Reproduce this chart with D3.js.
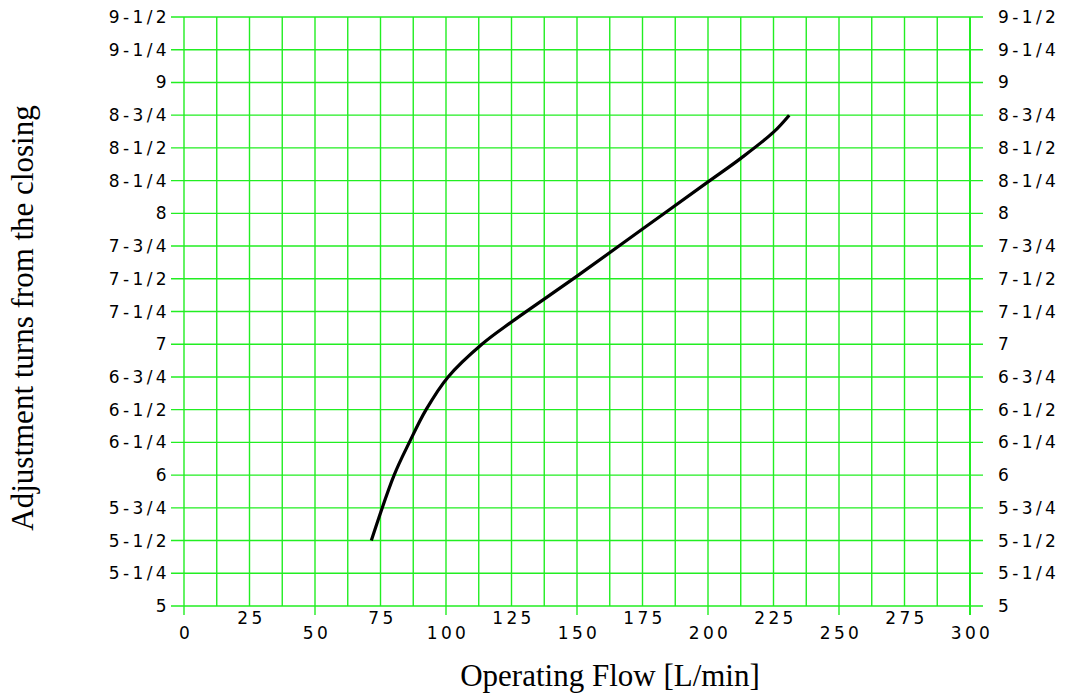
<!DOCTYPE html>
<html>
<head>
<meta charset="utf-8">
<script src="https://cdn.jsdelivr.net/npm/d3@7"></script>
<style>
  body { margin: 0; background: #fff; }
  .tick-label { font-family: "DejaVu Sans", sans-serif; font-size: 17px; letter-spacing: 3.4px; fill: #000; }
  .title { font-family: "Liberation Serif", "Times New Roman", serif; font-size: 31px; fill: #000; }
</style>
</head>
<body>
<script>
// curve
var flowData = [71.5, 80.2, 86.0, 92.4, 100.8, 113.7, 125, 150, 175, 200, 212.5, 225, 231];
var turnsData = [5.5, 6.0, 6.25, 6.5, 6.75, 7.0, 7.17, 7.52, 7.88, 8.24, 8.42, 8.62, 8.75];

var yTicks = [5, 5.25, 5.5, 5.75, 6, 6.25, 6.5, 6.75, 7, 7.25, 7.5, 7.75, 8, 8.25, 8.5, 8.75, 9, 9.25, 9.5];
var yLabels = ['5','5-1/4','5-1/2','5-3/4','6','6-1/4','6-1/2','6-3/4','7','7-1/4','7-1/2','7-3/4','8','8-1/4','8-1/2','8-3/4','9','9-1/4','9-1/2'];
var xTicks = [0, 25, 50, 75, 100, 125, 150, 175, 200, 225, 250, 275, 300];
var xGrid = d3.range(0, 300.1, 12.5);

const width = 1080, height = 697;
const margin = { left: 184, right: 110, top: 17, bottom: 91 };
const plotW = width - margin.left - margin.right;
const plotH = height - margin.top - margin.bottom;

const x = d3.scaleLinear().domain([0, 300]).range([0, plotW]);
const y = d3.scaleLinear().domain([5, 9.5]).range([plotH, 0]);

const svg = d3.select("body").append("svg").attr("width", width).attr("height", height);
const g = svg.append("g").attr("transform", `translate(${margin.left}, ${margin.top})`);

// horizontal grid
g.selectAll(".hgrid").data(yTicks).enter().append("line")
    .attr("x1", -13).attr("x2", plotW + 13)
    .attr("y1", d => y(d)).attr("y2", d => y(d))
    .attr("stroke", "#22ee22").attr("stroke-width", 1.4);

// vertical grid
g.selectAll(".vgrid").data(xGrid).enter().append("line")
    .attr("x1", d => x(d)).attr("x2", d => x(d))
    .attr("y1", 0).attr("y2", d => (d % 50 === 0 ? plotH + 9 : plotH))
    .attr("stroke", "#22ee22").attr("stroke-width", d => d === 300 ? 2 : 1.4);

// left / right labels
g.selectAll(".yl").data(yTicks).enter().append("text")
    .attr("class", "tick-label")
    .attr("x", -14).attr("y", d => y(d) + 6)
    .attr("text-anchor", "end")
    .text((d, i) => yLabels[i]);
g.selectAll(".yr").data(yTicks).enter().append("text")
    .attr("class", "tick-label")
    .attr("x", plotW + 28).attr("y", d => y(d) + 6)
    .text((d, i) => yLabels[i]);

// x labels, staggered
g.selectAll(".xl").data(xTicks).enter().append("text")
    .attr("class", "tick-label")
    .attr("x", d => x(d) + 2)
    .attr("y", d => d % 50 === 0 ? plotH + 33 : plotH + 18)
    .attr("text-anchor", "middle")
    .text(d => d);

// curve
const line = d3.line()
    .x((d, i) => x(flowData[i]))
    .y(d => y(d))
    .curve(d3.curveCatmullRom.alpha(0.5));
g.append("path")
    .attr("d", line(turnsData))
    .attr("fill", "none")
    .attr("stroke", "#000")
    .attr("stroke-width", 3.2);

// titles
svg.append("text").attr("class", "title")
    .attr("x", 610).attr("y", 686)
    .attr("text-anchor", "middle")
    .text("Operating Flow [L/min]");
svg.append("text").attr("class", "title")
    .attr("transform", "translate(33, 318) rotate(-90)")
    .attr("text-anchor", "middle")
    .text("Adjustment turns from the closing");
</script>
</body>
</html>
